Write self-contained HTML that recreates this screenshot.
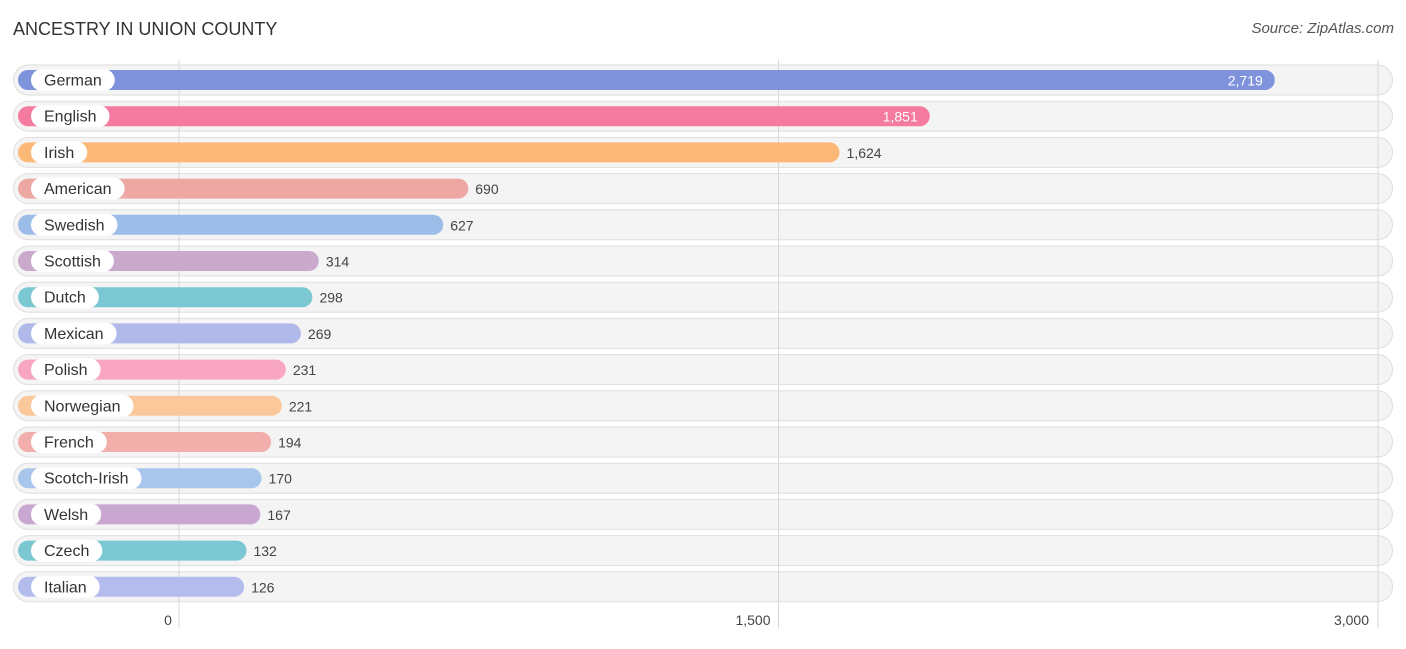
<!DOCTYPE html>
<html><head><meta charset="utf-8"><style>
body{margin:0;background:#fff;font-family:"Liberation Sans",Roboto,sans-serif;}
#wrap{position:relative;width:1406px;height:644px;}
</style></head><body><div id="wrap">
<svg id="svg" width="1406" height="644" xmlns="http://www.w3.org/2000/svg">
<text x="13" y="35" font-size="18" fill="#333">ANCESTRY IN UNION COUNTY</text>
<text x="1394" y="33" font-size="15" fill="#555" font-style="italic" text-anchor="end">Source: ZipAtlas.com</text>
</svg></div>
<script>
const categories=["German","English","Irish","American","Swedish","Scottish","Dutch","Mexican","Polish","Norwegian","French","Scotch-Irish","Welsh","Czech","Italian"];
const values=[2719,1851,1624,690,627,314,298,269,231,221,194,170,167,132,126];
const colors=["#7f92dc","#f47aa0","#fbb877","#eea8a3","#9bbde8","#c9a9cc","#7cc8d2","#b1b9ea","#f8a6c2","#fbc89c","#f2aeaa","#a8c6ec","#c8a8d0","#7cc8d2","#b4bcee"];
const ticks=[0,1500,3000];
const tickLabels=["0","1,500","3,000"];
const NS="http://www.w3.org/2000/svg";
const svg=document.getElementById('svg');
const xGrid=v=>179+v*(1199/3000);
const xBar=v=>194+v*0.3975;
const rowY=i=>80+i*36.2;
function el(t,a){const e=document.createElementNS(NS,t);for(const k in a)e.setAttribute(k,a[k]);svg.appendChild(e);return e;}
categories.forEach((c,i)=>{
  const r=el('rect',{x:13.5,y:rowY(i)-15,width:1379,height:30,rx:15,fill:'#f4f4f4',stroke:'#dedede'});
  
  
});
ticks.forEach((t,i)=>{
  const l=el('line',{x1:xGrid(t),x2:xGrid(t),y1:60,y2:628,stroke:'#d8d8d8','stroke-width':1});
  
  
  const anchor=i==0?'middle':(i==1?'middle':'end');
  const tx=el('text',{x:i==0?168:(i==1?753:1369),y:625,'font-size':14,fill:'#444','text-anchor':anchor});
  tx.textContent=tickLabels[i];
  
  
});
categories.forEach((c,i)=>{
  const y=rowY(i), xe=xBar(values[i]);
  const b=el('rect',{x:18,y:y-10,width:xe-18,height:20,rx:10,fill:colors[i]});
  
  
  const p=el('rect',{x:31,y:y-11,width:60,height:22,rx:11,fill:'#fff'});
  
  
  const t=el('text',{x:44,y:y+5.5,'font-size':16,fill:'#333'});
  t.textContent=c;
  
  
  p.setAttribute('width',t.getComputedTextLength()+26);
  const inside=values[i]>1700;
  const v=el('text',{x:inside?xe-12:xe+7,y:y+5.5,'font-size':14,fill:inside?'#fff':'#444','text-anchor':inside?'end':'start'});
  v.textContent=values[i].toLocaleString('en-US');
  
  
});
</script></body></html>
